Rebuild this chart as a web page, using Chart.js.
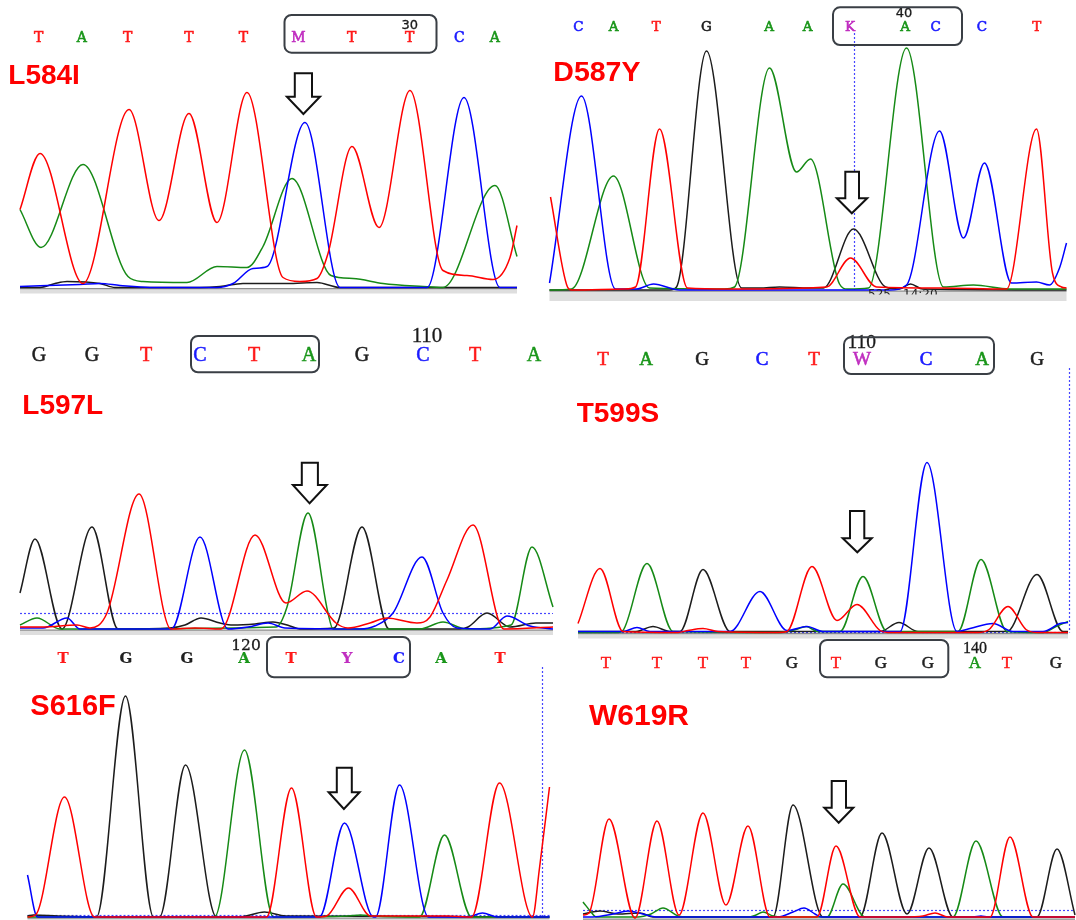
<!DOCTYPE html>
<html><head><meta charset="utf-8">
<script src="https://cdn.jsdelivr.net/npm/chart.js@4.4.1/dist/chart.umd.min.js"></script>
<style>
html,body{margin:0;padding:0;background:#fff;}
#wrap{position:relative;width:1076px;height:920px;overflow:hidden;background:#fff;}
#wrap canvas{position:absolute;left:0;top:0;}
#overlay{position:absolute;left:0;top:0;}
</style></head><body>
<div id="wrap"><svg id="overlay" width="1076" height="920" xmlns="http://www.w3.org/2000/svg"></svg></div>
<script>
// ---------- DATA: chromatogram traces, [scan position, signal intensity] ----------
// Panel 1 (L584I)
const p1Red   = [[0,78],[20,134],[63,4],[109,178],[139,67],[169,174],[197,65],[227,195],[263,10],[280,6],[297,9],[308,34],[332,141],[359,60],[390,197],[423,17],[447,12],[473,8],[490,30],[497,62]];
const p1Green = [[0,78],[21,40],[63,123],[108,11],[123,6],[167,5],[197,21],[227,20],[243,41],[272,109],[311,12],[333,9],[363,4],[403,1],[423,0],[475,102],[497,31]];
const p1Blue  = [[0,1],[60,3],[80,4],[100,2],[130,0],[197,0],[213,4],[233,19],[247,21],[285,165],[320,0],[407,0],[444,190],[480,0],[497,0]];
const p1Black = [[0,0],[20,0],[35,4],[47,6],[80,4],[95,0],[180,0],[200,1],[223,4],[267,4],[297,5],[320,0],[497,0]];
// Panel 2 (D587Y)
const p2Red   = [[1,93],[18,3],[22,0],[75,1],[86,3],[110,161],[138,2],[180,1],[277,3],[301,32],[327,3],[390,2],[457,1],[487,161],[503,17],[512,3],[517,2]];
const p2Green = [[0,0],[22,1],[64,114],[100,2],[175,1],[185,3],[220,222],[247,118],[261,131],[290,6],[298,1],[319,2],[357,242],[394,3],[424,5],[460,1],[517,1]];
const p2Blue  = [[0,7],[32,194],[66,1],[87,1],[104,6],[130,0],[340,0],[357,5],[390,159],[414,52],[435,127],[462,7],[487,8],[500,5],[510,22],[517,47]];
const p2Black = [[0,0],[120,0],[127,3],[157,239],[192,2],[210,2],[230,3],[260,2],[274,2],[304,61],[336,3],[350,1],[361,6],[373,1],[517,0]];
// Panel 3 (L597L)
const p3Red   = [[0,2],[23,2],[57,4],[70,1],[87,16],[119,135],[151,0],[175,1],[201,0],[235,94],[266,26],[287,38],[316,6],[328,1],[350,6],[367,11],[397,6],[410,12],[427,49],[453,104],[484,0],[533,2]];
const p3Green = [[0,4],[17,11],[40,0],[256,2],[267,22],[288,116],[308,16],[313,0],[400,0],[423,7],[446,0],[491,4],[512,82],[533,22]];
const p3Blue  = [[0,1],[23,1],[47,11],[60,0],[150,0],[153,1],[180,92],[208,0],[228,2],[248,6],[265,1],[340,0],[355,3],[373,16],[402,72],[423,16],[437,1],[470,0],[487,13],[510,3],[533,0]];
const p3Black = [[0,36],[15,90],[42,0],[72,102],[98,0],[150,1],[165,4],[181,11],[200,6],[213,4],[235,5],[253,7],[270,3],[280,0],[314,1],[342,102],[369,0],[440,0],[448,2],[467,16],[490,2],[516,6],[533,6]];
// Panel 4 (T599S)
const p4Red   = [[0,9],[22,64],[45,1],[100,0],[110,2],[125,4],[140,1],[200,0],[209,1],[234,66],[259,12],[279,28],[302,2],[310,0],[400,0],[411,3],[430,26],[448,3],[460,0],[490,0]];
const p4Green = [[0,0],[40,0],[45,2],[69,69],[95,1],[200,0],[218,3],[228,6],[240,1],[262,1],[285,56],[309,1],[380,1],[403,73],[429,1],[465,0],[478,6],[490,11]];
const p4Blue  = [[0,1],[45,1],[59,5],[72,1],[152,1],[182,41],[209,2],[229,6],[245,1],[322,1],[349,170],[379,1],[392,4],[415,9],[435,1],[465,1],[482,9],[490,10]];
const p4Black = [[0,1],[58,1],[75,6],[92,1],[102,1],[125,63],[152,1],[302,1],[321,10],[340,1],[429,1],[459,58],[485,1],[490,1]];
// Panel 5 (S616F)
const p5Red   = [[0,0],[8,2],[37,120],[67,0],[230,0],[239,0],[264,129],[289,0],[299,1],[321,29],[343,1],[420,1],[444,0],[472,134],[505,0],[512,49],[522,130]];
const p5Green = [[0,0],[187,0],[217,167],[246,0],[320,1],[333,2],[346,1],[392,0],[417,82],[444,0],[522,0]];
const p5Blue  = [[0,42],[10,0],[60,0],[292,0],[317,94],[346,0],[348,0],[372,132],[401,0],[440,0],[455,4],[470,0],[522,0]];
const p5Black = [[0,1],[6,2],[30,1],[69,0],[98,221],[126,0],[132,0],[158,152],[189,0],[212,0],[237,5],[258,1],[522,0]];
// Panel 6 (W619R)
const p6Red   = [[0,3],[6,5],[26,99],[52,0],[74,97],[96,3],[120,105],[143,13],[165,92],[187,1],[234,1],[253,72],[277,1],[320,1],[340,2],[352,5],[365,1],[407,1],[427,81],[450,1],[492,1]];
const p6Green = [[0,16],[8,6],[13,1],[55,1],[68,4],[80,10],[95,2],[104,1],[165,1],[173,3],[180,6],[190,2],[200,1],[244,1],[260,34],[282,1],[370,1],[393,77],[420,1],[492,1]];
const p6Blue  = [[0,1],[10,1],[30,4],[45,7],[60,4],[73,1],[195,1],[210,6],[221,10],[232,4],[238,1],[390,1],[398,2],[405,1],[492,1]];
const p6Black = [[0,4],[17,7],[35,4],[57,5],[70,1],[190,1],[210,113],[240,1],[277,1],[299,85],[324,4],[346,70],[370,1],[454,1],[474,69],[492,3]];

// Base calls, base numbers and mutation labels
const seq1 = 'TATTTMTTCA',  num1 = '30',  label1 = 'L584I';
const seq2 = 'CATGAAKACCT', num2 = '40',  label2 = 'D587Y';
const seq3 = 'GGTCTAGCTA',  num3 = '110', label3 = 'L597L';
const seq4 = 'TAGCTWCAG',   num4 = '110', label4 = 'T599S';
const seq5 = 'TGGATYCAT',   num5 = '120', label5 = 'S616F';
const seq6 = 'TTTTGTGGATG', num6 = '140', label6 = 'W619R';

// ---------- LAYOUT / STYLE ----------
const W = 1076, H = 920, YMAX = 270;
const TRACE = {red:'#ff0000', green:'#168a16', blue:'#0000ff', black:'#1c1c1c'};
const BASE = {T:'#ff1a1a', A:'#1a961a', C:'#1a1aff', G:'#202020', M:'#c02ec0', K:'#c02ec0', W:'#c02ec0', Y:'#c02ec0'};
const DOT = '#4646ff';

const panels = [
  {L:20, R:517, B:287.5, band:5, hLines:[], vLines:[], tr:{black:p1Black, green:p1Green, blue:p1Blue, red:p1Red}},
  {L:549.5, R:1066.5, B:290, band:10, hLines:[], vLines:[[304.5,257]], tr:{black:p2Black, green:p2Green, blue:p2Blue, red:p2Red}},
  {L:20, R:553, B:629, band:5, hLines:[16], vLines:[], tr:{black:p3Black, green:p3Green, blue:p3Blue, red:p3Red}},
  {L:578, R:1068, B:632.5, band:5, hLines:[0.6], vLines:[[491,264.5]], tr:{black:p4Black, green:p4Green, blue:p4Blue, red:p4Red}},
  {L:27.5, R:549.5, B:917, band:3, hLines:[2], vLines:[[514.5,250]], tr:{black:p5Black, green:p5Green, blue:p5Blue, red:p5Red}},
  {L:583, R:1075, B:918, band:2, hLines:[8], vLines:[], tr:{black:p6Black, green:p6Green, blue:p6Blue, red:p6Red}}
];

const notes = [
  {seq:seq1, xs:[38.6,81.7,127.6,189,243.4,298.3,351.7,409.7,459.3,494.8], y:37, ff:'DejaVu Serif', fs:14, fw:'normal', sw:0.6,
   num:{t:num1,x:409.7,y:24.5,ff:'DejaVu Sans',fs:13}, box:[284.5,15,152,37.7],
   arrow:[294.8,312,73.3,96.7,286.9,320,114,303.4], label:{t:label1,x:8.3,y:84.3,fs:28}},
  {seq:seq2, xs:[578.3,613.5,656.2,706.5,769,807.7,850.1,905.1,935.6,982,1036.8], y:25.5, ff:'DejaVu Serif', fs:13.5, fw:'normal', sw:0.6,
   num:{t:num2,x:904,y:12.7,ff:'DejaVu Sans',fs:13}, box:[833,7.3,129,37.7],
   arrow:[845.3,859,171.7,198.3,836.8,867.2,213.3,851.8], label:{t:label2,x:553.3,y:81,fs:28.5}},
  {seq:seq3, xs:[39,92,146,200,254,309,362,423,475,534], y:354, ff:'Liberation Serif', fs:20, fw:'normal', sw:0.5,
   num:{t:num3,x:427,y:335,ff:'Liberation Serif',fs:21}, box:[191,336,128,36.3],
   arrow:[301.8,317.9,462.7,485,292.9,326.8,503.3,309.6], label:{t:label3,x:22.3,y:414.3,fs:28}},
  {seq:seq4, xs:[603,646,702,762,814,862,926,982,1037], y:358.5, ff:'Liberation Serif', fs:19, fw:'normal', sw:0.6,
   num:{t:num4,x:861.7,y:341.7,ff:'Liberation Serif',fs:19.5}, box:[844,337.3,150,36.7],
   arrow:[850,864.3,511,538.3,842.7,871.7,552.3,857.3], label:{t:label4,x:576.7,y:422.3,fs:28}},
  {seq:seq5, xs:[63,126,187,244,291,347,399,441,500], y:658, ff:'DejaVu Serif', fs:15, fw:'bold', sw:0.2,
   num:{t:num5,x:246,y:645,ff:'DejaVu Serif',fs:15.5}, box:[267,637,143,40.3],
   arrow:[336.8,351.8,767.7,792.3,328.6,359.6,809,343.9], label:{t:label5,x:30.3,y:715,fs:29}},
  {seq:seq6, xs:[606,657,703,746,792,836,881,928,975,1007,1056], y:662, ff:'Liberation Serif', fs:17, fw:'normal', sw:0.5,
   num:{t:num6,x:975,y:647.3,ff:'Liberation Serif',fs:16}, box:[820,640,128.3,37.3],
   arrow:[831.7,846,781,807.7,824.3,853.3,822.7,838.7], label:{t:label6,x:589,y:725,fs:30}}
];

// ---------- Chart.js plugin: baseline band + dotted guide lines ----------
const decor = {
  id:'decor',
  beforeDatasetsDraw(chart, args, o){
    const ctx = chart.ctx, x = chart.scales.x, y = chart.scales.y;
    const y0 = y.getPixelForValue(0);
    const x0 = x.getPixelForValue(x.min), x1 = x.getPixelForValue(x.max);
    ctx.save();
    ctx.fillStyle = '#dedede';
    ctx.fillRect(x0, y0 + 1, x1 - x0, o.band);
    ctx.fillStyle = '#8a8a8a';
    ctx.fillRect(x0, y0 + 0.5, x1 - x0, 1.2);
    ctx.strokeStyle = DOT; ctx.lineWidth = 1.2; ctx.setLineDash([2,2]);
    (o.hLines||[]).forEach(v => {
      const py = Math.round(y.getPixelForValue(v)) + 0.5;
      ctx.beginPath(); ctx.moveTo(x0, py); ctx.lineTo(x1, py); ctx.stroke();
    });
    (o.vLines||[]).forEach(([xv, top]) => {
      const px = Math.round(x.getPixelForValue(xv)) + 0.5;
      ctx.beginPath(); ctx.moveTo(px, y.getPixelForValue(top)); ctx.lineTo(px, y0); ctx.stroke();
    });
    ctx.restore();
  }
};

const wrap = document.getElementById('wrap');
const overlay = document.getElementById('overlay');
panels.forEach(p => {
  const cv = document.createElement('canvas');
  cv.width = W; cv.height = H; cv.style.width = W + 'px'; cv.style.height = H + 'px';
  wrap.insertBefore(cv, overlay);
  const ds = ['red','blue','green','black'].map(k => ({
    data: p.tr[k].map(([a,b]) => ({x:a, y:b})),
    borderColor: TRACE[k], borderWidth: 1.5, pointRadius: 0, fill: false,
    cubicInterpolationMode: 'monotone', clip: false
  }));
  new Chart(cv, {
    type:'line',
    data:{datasets: ds},
    options:{
      responsive:false, animation:false, devicePixelRatio:1, events:[],
      layout:{autoPadding:false, padding:{left:p.L, right:W - p.R, top:p.B - YMAX, bottom:H - p.B}},
      scales:{
        x:{type:'linear', min:0, max:p.R - p.L, display:false},
        y:{type:'linear', min:0, max:YMAX, display:false}
      },
      plugins:{legend:{display:false}, tooltip:{enabled:false}, title:{display:false},
        decor:{band:p.band, hLines:p.hLines, vLines:p.vLines}}
    },
    plugins:[decor]
  });
});

// ---------- SVG overlay: base calls, boxes, arrows, labels ----------
const NS = 'http://www.w3.org/2000/svg';
function el(tag, attrs, text, parent){
  const e = document.createElementNS(NS, tag);
  for (const k in attrs) e.setAttribute(k, attrs[k]);
  if (text != null) e.textContent = text;
  (parent || overlay).appendChild(e);
  return e;
}
const defs = el('defs', {});
const cp = el('clipPath', {id:'cp2'}, null, defs);
el('rect', {x:860, y:288.5, width:100, height:6}, null, cp);

notes.forEach(n => {
  [...n.seq].forEach((ch, i) => {
    el('text', {x:n.xs[i], y:n.y, 'text-anchor':'middle', 'dominant-baseline':'central',
      'font-family':n.ff, 'font-size':n.fs, 'font-weight':n.fw, fill:BASE[ch],
      stroke:BASE[ch], 'stroke-width':n.sw}, ch);
  });
  el('text', {x:n.num.x, y:n.num.y, 'text-anchor':'middle', 'dominant-baseline':'central',
    'font-family':n.num.ff, 'font-size':n.num.fs, fill:'#1a1a1a', stroke:'#1a1a1a', 'stroke-width':0.3}, n.num.t);
  const b = n.box;
  el('rect', {x:b[0], y:b[1], width:b[2], height:b[3], rx:7, ry:7, fill:'none', stroke:'#3a3f45', 'stroke-width':2});
  const [sl,sr,top,hb,hl,hr,tip,tx] = n.arrow;
  el('polygon', {points:`${sl},${top} ${sr},${top} ${sr},${hb} ${hr},${hb} ${tx},${tip} ${hl},${hb} ${sl},${hb}`,
    fill:'#fff', stroke:'#111', 'stroke-width':2, 'stroke-linejoin':'miter'});
  el('text', {x:n.label.x, y:n.label.y, 'font-family':'Liberation Sans, Arial, sans-serif', 'font-weight':'bold',
    'font-size':n.label.fs, fill:'#ff0000'}, n.label.t);
});
// clipped run-info text under panel 2
el('text', {x:868, y:289, 'dominant-baseline':'hanging', 'font-family':'DejaVu Sans', 'font-size':12, fill:'#222', 'clip-path':'url(#cp2)'}, '525');
el('text', {x:903, y:289, 'dominant-baseline':'hanging', 'font-family':'DejaVu Sans', 'font-size':12, fill:'#222', 'clip-path':'url(#cp2)'}, '14:20');
</script>
</body></html>
